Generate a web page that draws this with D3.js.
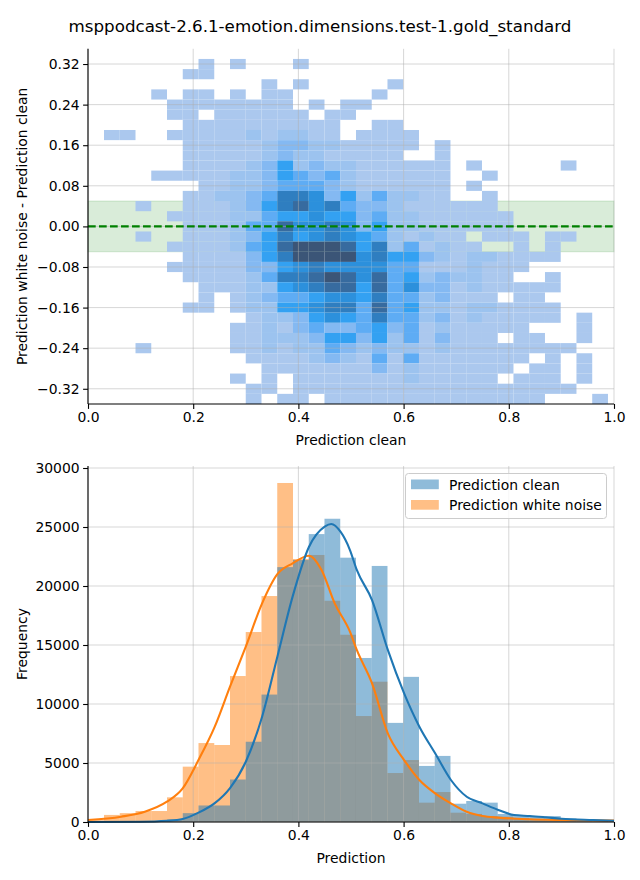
<!DOCTYPE html>
<html><head><meta charset="utf-8">
<script src="https://cdn.jsdelivr.net/npm/d3@7"></script>
<style>body{margin:0;background:#fff} svg{display:block} text{font-family:"DejaVu Sans",sans-serif;fill:#000}</style>
</head><body><svg id="c" width="640" height="880"></svg>
<script>
// ---------- data ----------
const title = "msppodcast-2.6.1-emotion.dimensions.test-1.gold_standard";
const binStart = 0.0005, binWidth = 0.02994, nBins = 33;
const heatTopCenter = 0.32, heatRowStep = 0.02;
// density level per cell (rows top->bottom, 33 columns, 0 = empty)
const heatLevels = [
"00000001010 00100000000 00000000000",
"00000011000 00000000000 00000000000",
"00000000000 10100000100 00000000000",
"00001011010 11000001000 00000000000",
"00000111111 11010110000 00000000000",
"00000110111 11101100000 00000000000",
"00000011111 11111001100 00000000000",
"01100111112 12211011110 00000000000",
"00000011111 23322111110 10000000000",
"00000011111 23221111100 10000000000",
"00000011112 35232211111 10100000100",
"00001111122 35434211111 10010000000",
"00000001122 34443211111 10100000000",
"00000011223 47763524221 10010000000",
"00010011123 57867433211 11110000000",
"00000111122 45565534221 11111000000",
"00000011124 48667635221 11111000000",
"00010011123 57567654212 11011101100",
"00000111124 58999857241 21100101000",
"00000011113 57999967553 21221111000",
"00000111113 35676666441 11211100000",
"00000011112 47789868452 32211001000",
"00000001112 25678858463 31211111000",
"00000001012 34456657442 31110110000",
"00000011012 25567748452 21221111000",
"00000000001 22356547442 31211111010",
"00000000011 21343345341 21111100010",
"00000000011 22235535241 31110110010",
"00010000011 21224323221 21111111100",
"00000000001 11123214141 11111101010",
"00000000000 11111113121 11111011010",
"00000000010 10111111121 11110111010",
"00000000001 10111111111 11111111100",
"00000000001 01101111111 11111110001"
];
const levelColors = ["none","#abc8ee","#9cc3ef","#84b9f2","#5eacf4","#33a1f2","#2c90dc","#2f7ec0","#376b9f","#3b5577"];

const cleanCounts = [0,0,0,30,60,200,750,1400,1400,3600,6800,10800,21600,22200,24400,25700,22400,13900,21700,8400,12300,4750,5600,1550,1780,1640,680,590,510,500,300,200,150];
const noiseCounts = [150,600,750,930,930,2090,4690,6690,6525,12370,16100,19150,28730,22290,22630,18750,15870,8980,11890,4150,5250,1640,2540,790,680,510,450,340,200,150,100,60,30];

const kdeCleanX = [0,0.10,0.15,0.18,0.21,0.241,0.27,0.30,0.331,0.36,0.389,0.42,0.45,0.4625,0.48,0.498,0.511,0.54,0.57,0.601,0.63,0.66,0.69,0.72,0.75,0.78,0.81,0.84,0.87,0.90,0.96,1.0];
const kdeCleanY = [0,20,100,250,790,1600,2880,5110,8920,14010,19100,23300,25030,25250,24600,23050,21360,18810,14580,10900,8080,5820,3560,2140,1580,1020,590,510,400,280,170,110];
const kdeNoiseX = [0,0.063,0.108,0.15,0.18,0.21,0.241,0.27,0.30,0.331,0.36,0.389,0.42,0.444,0.469,0.498,0.511,0.54,0.57,0.601,0.63,0.66,0.69,0.72,0.75,0.78,0.84,0.90,1.0];
const kdeNoiseY = [170,450,870,1720,2850,5250,8080,11470,14860,18530,21000,21920,22570,21360,18530,16130,14580,11750,7510,5250,3560,2430,1580,870,510,370,230,170,120];

const xTicks = [0,0.2,0.4,0.6,0.8,1.0];
const topYTicks = [0.32,0.24,0.16,0.08,0,-0.08,-0.16,-0.24,-0.32];
const bottomYTicks = [0,5000,10000,15000,20000,25000,30000];
const seriesNames = ["Prediction clean","Prediction white noise"];

// ---------- layout ----------
const svg = d3.select("#c");
const L = 88, R = 614;
const top1 = 48.8, bot1 = 404, top2 = 466, bot2 = 822;
const x = d3.scaleLinear().domain([0,1]).range([L,R]);
const y1 = d3.scaleLinear().domain([-0.35,0.35]).range([bot1,top1]);
const y2 = d3.scaleLinear().domain([0,30170]).range([bot2,top2]);
const fmtMinus = s => s.replace("-","\u2212");

svg.append("text").attr("x",320).attr("y",32).attr("text-anchor","middle")
  .style("font-size","16.7px").text(title);

// ---------- top: 2D histogram ----------
const g1 = svg.append("g");
g1.append("rect").attr("x",L).attr("width",R-L)
  .attr("y",y1(0.05)).attr("height",y1(-0.05)-y1(0.05))
  .attr("fill","green").attr("fill-opacity",0.15)
  .attr("stroke","green").attr("stroke-opacity",0.15);

const cells = [];
heatLevels.forEach((row,r)=>{
  const s = row.replace(/ /g,"");
  for(let k=0;k<nBins;k++){
    const lv = +s[k];
    if(lv>0) cells.push({k, yc: heatTopCenter - r*heatRowStep, lv});
  }
});
g1.selectAll("rect.cell").data(cells).enter().append("rect").attr("class","cell")
  .attr("x",d=>x(binStart+d.k*binWidth))
  .attr("width",d=>x(binStart+(d.k+1)*binWidth)-x(binStart+d.k*binWidth))
  .attr("y",d=>y1(d.yc+heatRowStep/2))
  .attr("height",d=>y1(d.yc-heatRowStep/2)-y1(d.yc+heatRowStep/2))
  .attr("fill",d=>levelColors[d.lv]);

function grid(g, ys, yscale, ytop, ybot){
  g.selectAll(null).data(xTicks).enter().append("line")
    .attr("x1",d=>x(d)).attr("x2",d=>x(d)).attr("y1",ytop).attr("y2",ybot)
    .attr("stroke","#b0b0b0").attr("stroke-opacity",0.5).attr("stroke-width",1);
  g.selectAll(null).data(ys).enter().append("line")
    .attr("x1",L).attr("x2",R).attr("y1",d=>yscale(d)).attr("y2",d=>yscale(d))
    .attr("stroke","#b0b0b0").attr("stroke-opacity",0.5).attr("stroke-width",1);
}
grid(g1, topYTicks, y1, top1, bot1);

g1.append("line").attr("x1",L).attr("x2",R).attr("y1",y1(0)).attr("y2",y1(0))
  .attr("stroke","green").attr("stroke-width",2.1).attr("stroke-dasharray","7.7,3.3");

function axes(g, yscale, yticks, yfmt, ybot, ytop){
  const ax = d3.axisBottom(x).tickValues(xTicks).tickFormat(d3.format(".1f")).tickSizeOuter(0).tickSize(4.9).tickPadding(3.5);
  const gx = g.append("g").attr("transform",`translate(0,${ybot})`).call(ax);
  const ay = d3.axisLeft(yscale).tickValues(yticks).tickFormat(yfmt).tickSizeOuter(0).tickSize(4.9).tickPadding(3.5);
  const gy = g.append("g").attr("transform",`translate(${L},0)`).call(ay);
  [gx,gy].forEach(a=>{
    a.select(".domain").remove();
    a.selectAll("line").attr("stroke","#000").attr("stroke-width",1.1);
    a.selectAll("text").style("font-size","13.9px").attr("fill","#000").style("font-family","DejaVu Sans");
  });
  g.append("line").attr("x1",L).attr("x2",R).attr("y1",ybot).attr("y2",ybot).attr("stroke","#000").attr("stroke-width",1.1);
  g.append("line").attr("x1",L).attr("x2",L).attr("y1",ytop).attr("y2",ybot).attr("stroke","#000").attr("stroke-width",1.1);
}
axes(g1, y1, topYTicks, d=>fmtMinus(d3.format(".2f")(d)), bot1, top1);

svg.append("text").attr("x",(L+R)/2).attr("y",445).attr("text-anchor","middle").style("font-size","13.9px").text("Prediction clean");
svg.append("text").attr("transform",`translate(27,${(top1+bot1)/2}) rotate(-90)`).attr("text-anchor","middle").style("font-size","13.9px").text("Prediction white noise - Prediction clean");

// ---------- bottom: histograms ----------
const g2 = svg.append("g");
function bars(counts, color){
  g2.selectAll(null).data(counts).enter().append("rect")
    .attr("x",(d,k)=>x(binStart+k*binWidth))
    .attr("width",(d,k)=>x(binStart+(k+1)*binWidth)-x(binStart+k*binWidth))
    .attr("y",d=>y2(d)).attr("height",d=>y2(0)-y2(d))
    .attr("fill",color).attr("fill-opacity",0.5);
}
bars(noiseCounts,"#ff7f0e");
bars(cleanCounts,"#1f77b4");
grid(g2, bottomYTicks, y2, top2, bot2);

const line = d3.line().x(d=>x(d[0])).y(d=>y2(d[1])).curve(d3.curveMonotoneX);
g2.append("path").attr("d",line(kdeNoiseX.map((v,i)=>[v,kdeNoiseY[i]])))
  .attr("fill","none").attr("stroke","#ff7f0e").attr("stroke-width",2.1);
g2.append("path").attr("d",line(kdeCleanX.map((v,i)=>[v,kdeCleanY[i]])))
  .attr("fill","none").attr("stroke","#1f77b4").attr("stroke-width",2.1);

axes(g2, y2, bottomYTicks, d=>String(d), bot2, top2);

svg.append("text").attr("x",(L+R)/2).attr("y",863).attr("text-anchor","middle").style("font-size","13.9px").text("Prediction");
svg.append("text").attr("transform",`translate(27,${(top2+bot2)/2}) rotate(-90)`).attr("text-anchor","middle").style("font-size","13.9px").text("Frequency");

// legend
const lg = svg.append("g");
lg.append("rect").attr("x",405.5).attr("y",473.5).attr("width",201).attr("height",45).attr("rx",3)
  .attr("fill","#fff").attr("fill-opacity",0.8).attr("stroke","#cccccc");
[["#1f77b4",0],["#ff7f0e",1]].forEach(([c,i])=>{
  lg.append("rect").attr("x",411).attr("y",479.5+i*20.5).attr("width",27.8).attr("height",9.7)
    .attr("fill",c).attr("fill-opacity",0.5);
  lg.append("text").attr("x",449).attr("y",489.5+i*20.5).style("font-size","13.9px").text(seriesNames[i]);
});
</script></body></html>
